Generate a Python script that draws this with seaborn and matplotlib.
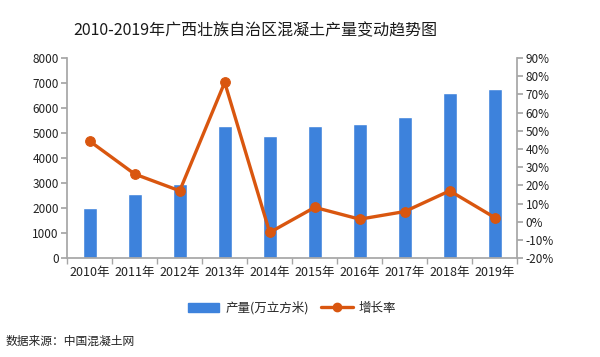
import matplotlib
matplotlib.use("Agg")
import matplotlib.pyplot as plt
import seaborn as sns
import pandas as pd
import numpy as np
from matplotlib.lines import Line2D
from matplotlib.patches import Patch

years = ["2010年", "2011年", "2012年", "2013年", "2014年", "2015年", "2016年", "2017年", "2018年", "2019年"]
output = [2010, 2560, 2980, 5270, 4900, 5270, 5380, 5630, 6620, 6770]
growth = [44.3, 26.2, 17.0, 76.6, -5.9, 7.9, 1.4, 5.6, 17.0, 2.3]

sns.set_theme(style="white")
plt.rcParams['font.family'] = ['Noto Sans CJK SC', 'DejaVu Sans']
plt.rcParams['axes.unicode_minus'] = False

BLUE = "#3d82dc"
ORANGE = "#d9560f"
GRAY = "#a6a6a6"

df = pd.DataFrame({"year": years, "output": output, "growth": growth})

fig = plt.figure(figsize=(6, 3.57), dpi=100)
ax = fig.add_axes([0.112, 0.277, 0.75, 0.5605])
sns.barplot(data=df, x="year", y="output", color=BLUE, width=0.31, ax=ax, saturation=1)
ax.set_ylim(0, 8000)
ax.set_yticks(np.arange(0, 8001, 1000))
ax.set_xlim(-0.5, 9.5)
ax.set_xlabel("")
ax.set_ylabel("")

ax2 = ax.twinx()
sns.lineplot(x=np.arange(len(years)), y=growth, color=ORANGE, lw=2.4, marker="o",
             markersize=7, markeredgecolor=ORANGE, ax=ax2)
ax2.set_ylim(-20, 90)
ax2.set_yticks(np.arange(-20, 91, 10))
ax2.set_yticklabels([f"{v}%" for v in range(-20, 91, 10)])
ax2.set_xlim(-0.5, 9.5)

for a in (ax, ax2):
    for s in a.spines.values():
        s.set_visible(False)
ax.spines['left'].set_visible(True)
ax.spines['left'].set_color(GRAY)
ax.spines['bottom'].set_visible(True)
ax.spines['bottom'].set_color(GRAY)
ax2.spines['right'].set_visible(True)
ax2.spines['right'].set_color(GRAY)

ax.tick_params(axis='y', which='major', length=4, color=GRAY, labelsize=8.5, pad=2, left=True,
               labelcolor="#222222")
ax2.tick_params(axis='y', which='major', length=4, color=GRAY, labelsize=8.5, pad=2, right=True,
                labelcolor="#222222")
ax.set_xticks(np.arange(len(years)))
ax.set_xticklabels(years, fontsize=9, color="#222222")
ax.tick_params(axis='x', which='major', length=0, pad=6)
ax.set_xticks(np.arange(-0.5, 10, 1), minor=True)
ax.tick_params(axis='x', which='minor', length=4, color=GRAY, bottom=True)

fig.text(0.425, 0.915, "2010-2019年广西壮族自治区混凝土产量变动趋势图", ha="center", va="center",
         fontsize=11.5, color="#1a1a1a")

handles = [Patch(facecolor=BLUE, edgecolor=BLUE),
           Line2D([0], [0], color=ORANGE, lw=2.4, marker="o", markersize=6)]
fig.legend(handles, ["产量(万立方米)", "增长率"], loc="center", bbox_to_anchor=(0.487, 0.137),
           ncol=2, frameon=False, fontsize=9, handlelength=2.5, columnspacing=1.0, handletextpad=0.5)

fig.text(0.01, 0.045, "数据来源：中国混凝土网", ha="left", va="center", fontsize=8.5, color="#222222")

fig.savefig("out.png", dpi=100)
